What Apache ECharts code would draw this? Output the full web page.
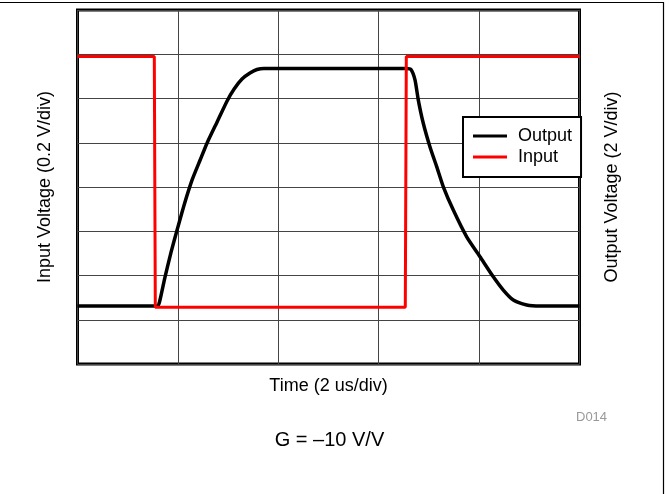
<!DOCTYPE html>
<html>
<head>
<meta charset="utf-8">
<script src="https://cdn.jsdelivr.net/npm/echarts@6/dist/echarts.min.js"></script>
<style>
  html, body { margin: 0; padding: 0; background: #fff; }
  #chart { width: 669px; height: 494px; }
</style>
</head>
<body>
<div id="chart"></div>
<script>
// Time axis (us) – 2 us per division, 5 divisions
const timeAxis = { min: 0, max: 10, interval: 2 };
// Input axis – 0.2 V per division, 8 divisions
const inputAxis = { min: -0.8, max: 0.8, interval: 0.2 };
// Output axis – 2 V per division, 8 divisions
const outputAxis = { min: -8, max: 8, interval: 2 };

// Input step (V) vs time (us)
const inputTime  = [0, 1.53, 1.55, 6.53, 6.55, 10];
const inputValue = [0.59, 0.59, -0.544, -0.544, 0.59, 0.59];

// Output response (V) vs time (us)
const outputTime = [0, 1.594, 1.643, 1.743, 1.864, 1.984, 2.124, 2.283, 2.443, 2.582,
  2.781, 2.98, 3.12, 3.277, 3.436, 3.576, 3.715,
  6.554, 6.643, 6.723, 6.789, 6.888, 7.022, 7.155, 7.287, 7.486, 7.753,
  8.018, 8.283, 8.482, 8.681, 8.948, 9.213, 10];
const outputValue = [-5.38, -5.38, -5.11, -4.07, -2.94, -1.94, -0.81, 0.32, 1.22, 1.99,
  2.94, 3.89, 4.43, 4.88, 5.15, 5.31, 5.36,
  5.36, 5.31, 4.84, 3.93, 2.88, 1.81, 0.92, 0.01, -1.04, -2.25,
  -3.15, -4.06, -4.66, -5.11, -5.33, -5.38, -5.38];

const seriesNames = ['Output', 'Input'];
const xTitle = 'Time (2 us/div)';
const yLeftTitle = 'Input Voltage (0.2 V/div)';
const yRightTitle = 'Output Voltage (2 V/div)';
const gainNote = 'G = \u201310 V/V';
const figId = 'D014';

const FONT = '"Liberation Sans", Arial, Helvetica, sans-serif';

const zip = (xs, ys) => xs.map((x, i) => [x, ys[i]]);

const chart = echarts.init(document.getElementById('chart'), null, { renderer: 'canvas' });

chart.setOption({
  animation: false,
  backgroundColor: '#fff',
  textStyle: { fontFamily: FONT },
  grid: {
    left: 77.5, right: 89.5, top: 10, bottom: 130,
    show: true, borderColor: '#000', borderWidth: 3, backgroundColor: 'transparent'
  },
  legend: {
    orient: 'vertical',
    left: 463, top: 117,
    data: seriesNames.map(n => ({ name: n, icon: 'rect' })),
    itemWidth: 34, itemHeight: 3, itemGap: 3,
    padding: [10, 9, 11, 10],
    backgroundColor: '#fff',
    borderColor: '#000', borderWidth: 2, borderRadius: 0,
    textStyle: { fontFamily: FONT, fontSize: 18, color: '#000', padding: [0, 0, 0, 6] }
  },
  xAxis: {
    type: 'value',
    min: timeAxis.min, max: timeAxis.max, interval: timeAxis.interval,
    name: xTitle, nameLocation: 'middle', nameGap: 13,
    nameTextStyle: { fontFamily: FONT, fontSize: 18, color: '#000' },
    axisLine: { show: false }, axisTick: { show: false }, axisLabel: { show: false },
    splitLine: { show: true, lineStyle: { color: '#444', width: 1 } }
  },
  yAxis: [
    {
      type: 'value', position: 'left',
      min: inputAxis.min, max: inputAxis.max, interval: inputAxis.interval,
      name: yLeftTitle, nameLocation: 'middle', nameGap: 23, nameRotate: 90,
      nameTextStyle: { fontFamily: FONT, fontSize: 18, color: '#000' },
      axisLine: { show: false }, axisTick: { show: false }, axisLabel: { show: false },
      splitLine: { show: true, lineStyle: { color: '#444', width: 1 } }
    },
    {
      type: 'value', position: 'right',
      min: outputAxis.min, max: outputAxis.max, interval: outputAxis.interval,
      name: yRightTitle, nameLocation: 'middle', nameGap: 24, nameRotate: 90,
      nameTextStyle: { fontFamily: FONT, fontSize: 18, color: '#000' },
      axisLine: { show: false }, axisTick: { show: false }, axisLabel: { show: false },
      splitLine: { show: false }
    }
  ],
  series: [
    {
      name: seriesNames[0], type: 'line', yAxisIndex: 1,
      data: zip(outputTime, outputValue),
      smooth: 0.2, showSymbol: false, symbol: 'none',
      color: '#000',
      lineStyle: { color: '#000', width: 3.5, join: 'round' }
    },
    {
      name: seriesNames[1], type: 'line', yAxisIndex: 0,
      data: zip(inputTime, inputValue),
      showSymbol: false, symbol: 'none',
      color: '#ff0000',
      lineStyle: { color: '#ff0000', width: 3 }
    }
  ],
  graphic: [
    {
      type: 'polyline', silent: true,
      shape: { points: [[0, 2.5], [663.5, 2.5], [663.5, 494]] },
      style: { stroke: '#000', lineWidth: 1.2, fill: null }
    },
    {
      type: 'text', left: 576, top: 411,
      style: { text: figId, font: '13px ' + FONT, fill: '#999' }
    },
    {
      type: 'text', x: 329.5, y: 440,
      style: { text: gainNote, font: '20px ' + FONT, fill: '#000', align: 'center', verticalAlign: 'middle' }
    }
  ]
});
</script>
</body>
</html>
